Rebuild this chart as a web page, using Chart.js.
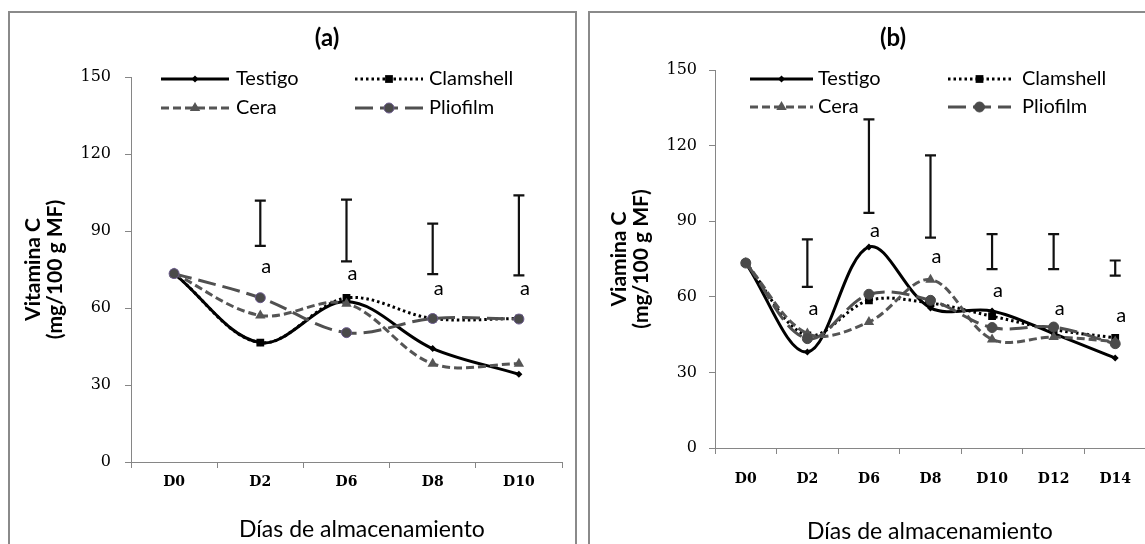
<!DOCTYPE html>
<html>
<head>
<meta charset="utf-8">
<script src="https://cdn.jsdelivr.net/npm/chart.js@4/dist/chart.umd.min.js"></script>
<style>
  body { margin: 0; width: 1145px; height: 544px; overflow: hidden; position: relative; background: #fff; }
  .box { position: absolute; border: 2px solid #8a8a8a; box-sizing: border-box; }
  .wrap { position: absolute; top: 0; }
  .txt { position: absolute; transform: translate(-50%, -50%); font-family: Lato, sans-serif; color: #000; white-space: nowrap; }
  .ttl { font-size: 24px; font-weight: bold; }
  .xt { font-size: 23px; }
</style>
</head>
<body>
<div class="box" style="left:8px; top:11px; width:569px; height:560px;"></div>
<div class="box" style="left:588px; top:11px; width:600px; height:560px;"></div>

<div class="wrap" style="left:0; width:580px; height:544px;"><canvas id="chartA" width="580" height="544"></canvas></div>
<div class="wrap" style="left:580px; width:580px; height:544px;"><canvas id="chartB" width="580" height="544"></canvas></div>

<div class="txt ttl" style="left:327px; top:36px;">(a)</div>
<div class="txt ttl" style="left:893px; top:36px;">(b)</div>
<div class="txt xt" style="left:362px; top:528px;">Días de almacenamiento</div>
<div class="txt xt" style="left:930px; top:530px;">Días de almacenamiento</div>

<script>
// panel (a)
const diasA = ['D0', 'D2', 'D6', 'D8', 'D10'];
const testigoA = [73.4, 46.5, 62.5, 44.2, 34.2];
const clamshellA = [73.4, 46.5, 63.9, 55.9, 55.9];
const ceraA = [73.4, 57.1, 61.7, 38.3, 38.3];
const pliofilmA = [73.4, 64, 50.4, 55.9, 55.7];
const errLowA = [null, 84.2, 78.2, 73.2, 72.7];
const errHighA = [null, 101.8, 102.2, 92.9, 103.9];
const letraA = [null, 76, 73.4, 67.5, 67.5];

// panel (b)
const diasB = ['D0', 'D2', 'D6', 'D8', 'D10', 'D12', 'D14'];
const testigoB = [73.4, 38.1, 79.8, 55.6, 54.4, 45.4, 35.7];
const clamshellB = [73.4, 44.7, 58.6, 57.5, 52.3, 47, 43.7];
const ceraB = [73.4, 45.4, 50, 66.8, 43.1, 44, 42.3];
const pliofilmB = [73.4, 43.4, 61, 58.6, 47.8, 48, 41.4];
const errLowB = [null, 63.9, 93.3, 83.5, 71, 71, 68.4];
const errHighB = [null, 82.8, 130.4, 116.1, 84.9, 84.9, 74.4];
const letraB = [null, 55.4, 86.4, 75.8, 62.3, 55.3, 52.4];

const yTicks = [0, 30, 60, 90, 120, 150];
const nombres = ['Testigo', 'Clamshell', 'Cera', 'Pliofilm'];

function makeSets(t, c, ce, p, circBorder) {
  return [
    { label: nombres[0], data: t, order: 4, borderColor: '#000', borderWidth: 3,
      pointStyle: 'rectRot', pointRadius: 3.5, pointBackgroundColor: '#000', pointBorderColor: '#000', pointBorderWidth: 0 },
    { label: nombres[1], data: c, order: 3, borderColor: '#000', borderWidth: 3, borderDash: [2.5, 3],
      pointStyle: 'rect', pointRadius: 5.5, pointBackgroundColor: '#000', pointBorderColor: '#000', pointBorderWidth: 0 },
    { label: nombres[2], data: ce, order: 2, borderColor: '#555', borderWidth: 3, borderDash: [8, 4],
      pointStyle: 'triangle', pointRadius: 6, pointBackgroundColor: '#555', pointBorderColor: '#555', pointBorderWidth: 0 },
    { label: nombres[3], data: p, order: 1, borderColor: '#505050', borderWidth: 3, borderDash: [18, 7],
      pointStyle: 'circle', pointRadius: 5, pointBackgroundColor: '#4a4a4a', pointBorderColor: circBorder, pointBorderWidth: 1 }
  ];
}

// error bars, letters and the 2x2 legend
const extras = {
  id: 'extras',
  afterDatasetsDraw(chart, args, opts) {
    const ctx = chart.ctx;
    const xs = chart.scales.x, ys = chart.scales.y;
    ctx.save();
    ctx.strokeStyle = '#111';
    ctx.lineWidth = 2.2;
    ctx.fillStyle = '#000';
    ctx.font = '20px Lato';
    ctx.textAlign = 'center';
    ctx.textBaseline = 'middle';
    opts.low.forEach(function (lo, i) {
      if (lo == null) return;
      const x = xs.getPixelForValue(i);
      const y1 = ys.getPixelForValue(lo), y2 = ys.getPixelForValue(opts.high[i]);
      ctx.beginPath();
      ctx.moveTo(x, y1); ctx.lineTo(x, y2);
      ctx.moveTo(x - 5.5, y1); ctx.lineTo(x + 5.5, y1);
      ctx.moveTo(x - 5.5, y2); ctx.lineTo(x + 5.5, y2);
      ctx.stroke();
      ctx.fillText('a', x + 6, ys.getPixelForValue(opts.letra[i]));
    });
    ctx.restore();
  },
  afterDraw(chart, args, opts) {
    const ctx = chart.ctx;
    const lg = opts.legend;
    chart.data.datasets.forEach(function (ds, i) {
      const col = i % 2, row = Math.floor(i / 2);
      const x0 = lg.lineX[col], y = lg.rowY[row];
      ctx.save();
      ctx.strokeStyle = ds.borderColor;
      ctx.lineWidth = ds.borderWidth;
      ctx.setLineDash(ds.borderDash || []);
      ctx.beginPath();
      ctx.moveTo(x0, y); ctx.lineTo(x0 + lg.len, y);
      ctx.stroke();
      ctx.setLineDash([]);
      ctx.fillStyle = ds.pointBackgroundColor;
      ctx.strokeStyle = ds.pointBorderColor;
      ctx.lineWidth = ds.pointBorderWidth;
      Chart.helpers.drawPoint(ctx, { pointStyle: ds.pointStyle, radius: ds.pointRadius, rotation: 0, borderWidth: ds.pointBorderWidth }, x0 + lg.len / 2, y);
      ctx.fillStyle = '#000';
      ctx.font = '20px Lato';
      ctx.textAlign = 'left';
      ctx.textBaseline = 'middle';
      ctx.fillText(ds.label, lg.textX[col], y);
      ctx.restore();
    });
  }
};

function makeChart(id, labels, sets, o) {
  return new Chart(document.getElementById(id), {
    type: 'line',
    data: { labels: labels, datasets: sets },
    plugins: [extras],
    options: {
      responsive: false,
      animation: false,
      layout: { padding: o.pad },
      elements: { line: { tension: 0.35, fill: false } },
      plugins: {
        legend: { display: false },
        tooltip: { enabled: false },
        extras: { low: o.low, high: o.high, letra: o.letra, legend: o.legend }
      },
      scales: {
        x: {
          type: 'category',
          offset: true,
          grid: { offset: true, drawOnChartArea: false, drawTicks: true, tickLength: 6, color: '#868686' },
          border: { display: true, color: '#868686', width: 1 },
          ticks: { color: '#000', padding: o.xPad, font: { family: 'DejaVu Serif', size: 14, weight: 'bold' } },
          afterFit: function (s) { s.height = o.xH; }
        },
        y: {
          min: 0, max: 150,
          afterBuildTicks: function (s) { s.ticks = yTicks.map(function (v) { return { value: v }; }); },
          grid: { drawOnChartArea: false, drawTicks: true, tickLength: 6, color: '#868686' },
          border: { display: true, color: '#868686', width: 1 },
          ticks: { color: '#000', padding: o.yPad, font: { family: 'DejaVu Serif', size: 16 } },
          title: { display: true, text: o.yTitle, color: '#000', padding: 0,
                   font: { family: 'Lato', size: 21, weight: 'bold', lineHeight: 1.05 } },
          afterFit: function (s) { s.width = o.yW; }
        }
      }
    }
  });
}

makeChart('chartA', diasA, makeSets(testigoA, clamshellA, ceraA, pliofilmA, '#6a5a8c'), {
  pad: { left: 22, right: 18, top: 77, bottom: 0 },
  xH: 82, xPad: 6, yW: 109, yPad: 14,
  yTitle: ['Vitamina C', '(mg/100 g MF)'],
  low: errLowA, high: errHighA, letra: letraA,
  legend: { lineX: [161, 355], len: 68, textX: [236, 429], rowY: [79, 108] }
});

makeChart('chartB', diasB, makeSets(testigoB, clamshellB, ceraB, pliofilmB, '#4a4a4a'), {
  pad: { left: 28, right: 14, top: 70, bottom: 0 },
  xH: 96, xPad: 17, yW: 107, yPad: 12,
  yTitle: ['Viamina C', '(mg/100 g MF)'],
  low: errLowB, high: errHighB, letra: letraB,
  legend: { lineX: [170, 368], len: 63, textX: [238, 442], rowY: [79, 107] }
});
</script>
</body>
</html>
